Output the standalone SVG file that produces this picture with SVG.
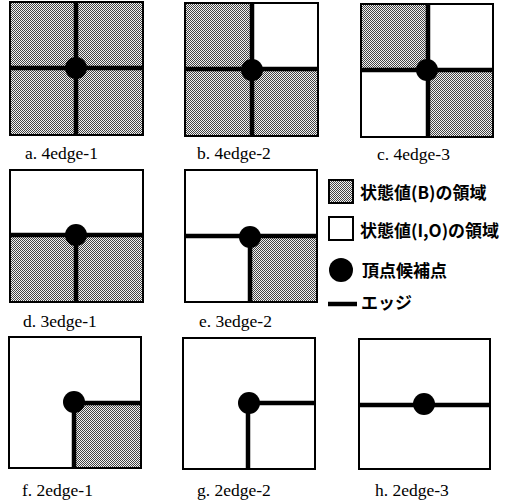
<svg xmlns="http://www.w3.org/2000/svg" width="510" height="503" viewBox="0 0 510 503">
<defs>
<pattern id="hatch" width="2" height="2" patternUnits="userSpaceOnUse">
<rect width="2" height="2" fill="#f2f2f2"/>
<rect x="0" y="0" width="1" height="1" fill="#444"/>
<rect x="1" y="1" width="1" height="1" fill="#444"/>
</pattern>
</defs>
<style>
.box{fill:#fff;stroke:#000;stroke-width:2}
.h{fill:url(#hatch)}
.e{stroke:#000;stroke-width:4.5;fill:none}
.v{fill:#000}
.lbl{font-family:"Liberation Serif","Times New Roman",serif;font-size:17.5px;fill:#000}
.jp{font-family:"Noto Sans CJK JP","Noto Sans CJK SC",sans-serif;font-size:17px;font-weight:bold;fill:#000}
</style>
<rect width="510" height="503" fill="#fff"/>

<g id="panel-a">
<rect class="box h" x="10" y="2" width="133" height="133"/>
<line class="e" x1="76" y1="2" x2="76" y2="135"/>
<line class="e" x1="10" y1="68" x2="143" y2="68"/>
<circle class="v" cx="76" cy="68" r="11"/>
<text class="lbl" x="25" y="159">a. 4edge-1</text>
</g>

<g id="panel-b">
<rect class="box h" x="185" y="3" width="133" height="133"/>
<rect fill="#fff" x="253" y="4" width="64" height="64"/>
<line class="e" x1="252" y1="3" x2="252" y2="136"/>
<line class="e" x1="185" y1="69" x2="318" y2="69"/>
<circle class="v" cx="252" cy="70" r="11"/>
<text class="lbl" x="197" y="159">b. 4edge-2</text>
</g>

<g id="panel-c">
<rect class="box" x="361" y="4" width="132" height="133"/>
<rect class="h" x="362" y="5" width="66" height="65"/>
<rect class="h" x="428" y="70" width="64" height="66"/>
<line class="e" x1="428" y1="4" x2="428" y2="137"/>
<line class="e" x1="361" y1="70" x2="493" y2="70"/>
<circle class="v" cx="427" cy="70" r="11"/>
<text class="lbl" x="377" y="160">c. 4edge-3</text>
</g>

<g id="panel-d">
<rect class="box" x="10" y="170" width="133" height="132"/>
<rect class="h" x="11" y="235" width="131" height="66"/>
<line class="e" x1="10" y1="235" x2="143" y2="235"/>
<line class="e" x1="76" y1="235" x2="76" y2="302"/>
<circle class="v" cx="76" cy="235" r="11"/>
<text class="lbl" x="23" y="327">d. 3edge-1</text>
</g>

<g id="panel-e">
<rect class="box" x="185" y="170" width="132" height="132"/>
<rect class="h" x="250" y="236" width="66" height="65"/>
<line class="e" x1="185" y1="236" x2="317" y2="236"/>
<line class="e" x1="250" y1="236" x2="250" y2="302"/>
<circle class="v" cx="250" cy="237" r="11"/>
<text class="lbl" x="199" y="327">e. 3edge-2</text>
</g>

<g id="legend">
<rect class="box h" x="329" y="180" width="24" height="23" stroke-width="1.5"/>
<text class="jp" x="360" y="199">状態値(B)の領域</text>
<rect class="box" x="329" y="217" width="24" height="23" stroke-width="1.5"/>
<text class="jp" x="360" y="237">状態値(I,O)の領域</text>
<circle class="v" cx="341" cy="270" r="12"/>
<text class="jp" x="362" y="277">頂点候補点</text>
<line class="e" x1="328" y1="304" x2="357" y2="304"/>
<text class="jp" x="361" y="309">エッジ</text>
</g>

<g id="panel-f">
<rect class="box" x="9" y="337" width="132" height="131"/>
<rect class="h" x="74" y="403" width="66" height="64"/>
<line class="e" x1="74" y1="403" x2="141" y2="403"/>
<line class="e" x1="74" y1="402" x2="74" y2="468"/>
<circle class="v" cx="74" cy="402" r="11"/>
<text class="lbl" x="22" y="496">f. 2edge-1</text>
</g>

<g id="panel-g">
<rect class="box" x="183" y="338" width="132" height="131"/>
<line class="e" x1="249" y1="403" x2="315" y2="403"/>
<line class="e" x1="248" y1="403" x2="248" y2="469"/>
<circle class="v" cx="249" cy="403" r="11"/>
<text class="lbl" x="197" y="496">g. 2edge-2</text>
</g>

<g id="panel-h">
<rect class="box" x="359" y="339" width="131" height="130"/>
<line class="e" x1="359" y1="405" x2="490" y2="405"/>
<circle class="v" cx="424" cy="404" r="11"/>
<text class="lbl" x="375" y="496">h. 2edge-3</text>
</g>
</svg>
